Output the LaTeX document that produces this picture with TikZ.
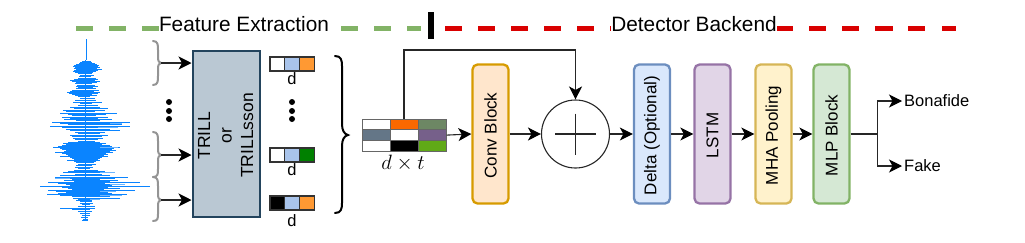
\documentclass[tikz,border=0pt]{standalone}
\usepackage{fontspec}
\usepackage{graphicx}
\setmainfont{Liberation Sans}
\usetikzlibrary{arrows.meta,calc}
\definecolor{wave}{HTML}{0A84FF}
\definecolor{wavelight}{HTML}{6DB6FF}
\definecolor{rulegreen}{RGB}{130,179,102}
\definecolor{rulered}{RGB}{217,0,0}
\newcommand{\blocktext}[1]{\rotatebox{90}{#1\hspace{3pt}}}
\tikzset{
  x=1pt,y=-1pt,
  flow/.style={draw=black!85,line width=1.1pt,-{Stealth[length=13pt,width=13pt,inset=3.5pt,color=black]}},
  plainline/.style={draw=black!85,line width=1.1pt},
  block/.style={draw,line width=2.3pt,rounded corners=5pt,minimum width=36pt,minimum height=139pt,inner sep=0pt,font=\fontsize{17}{19}\selectfont},
  cell/.style={draw=black!80,line width=1.1pt,minimum width=14.7pt,minimum height=14pt,inner sep=0pt},
  gridcell/.style={draw=black!60,line width=1pt,minimum width=27.7pt,minimum height=10.7pt,inner sep=0pt},
  sizelabel/.style={font=\fontsize{16.5}{18}\selectfont,inner sep=0pt},
  heading/.style={font=\fontsize{20.8}{22}\selectfont,fill=white,inner sep=0pt,text height=15pt,text depth=4pt},
  sectionrule/.style={line width=5pt},
  dotmark/.style={circle,fill=black,inner sep=0pt,minimum size=6pt},
  grouping/.style={draw=black!42,line width=2pt,line cap=round},
  outlabel/.style={anchor=west,inner sep=0pt,font=\fontsize{16.5}{18}\selectfont},
}
\begin{document}
\begin{tikzpicture}
\useasboundingbox (0,0) rectangle (1025,242);

% Section rules
\foreach \a/\b in {76/93,109/126,142/159,341/358,374/391,407/421}
  \draw[sectionrule,rulegreen] (\a,28) -- (\b,28);
\foreach \a/\b in {445/462,478/495,511/528,544/561,577/594,610/612,777/793,809/826,842/859,875/893,908/925,942/956}
  \draw[sectionrule,rulered] (\a,28) -- (\b,28);
\draw[line width=5.5pt] (431,12) -- (431,39);
\node[heading] (fe) at (244,26) {Feature Extraction};
\node[heading] (db) at (694,26) {Detector Backend};

% Speech waveform, drawn top to bottom as horizontal excursions
\draw[wave,line width=0.9pt] (86,39) -- (86,60) (85.5,60) -- (85.5,221);
\foreach \y/\l/\r in {
 61/82/91,62/80/92,63/79/95,64/76/97,65/74/99,66/73/98,67/75/100,68/74/97,69/76/102,70/74/98,71/73/96,72/75/93,73/78/92,
 75/80/94,76/79/91,78/78/96,79/74/98,80/70/95,81/72/100,82/76/97,83/75/92,85/77/95,86/76/98,87/78/93,88/76/96,
 90/72/99,91/70/94,92/67/100,93/69/98,94/72/92,95/75/97,96/78/90,98/80/95,100/75/96,102/73/102,103/80/92,
 105/78/98,107/70/100,108/74/108,110/63/105,111/66/95,113/60/117,114/68/106,115/72/96,117/62/108,118/70/98,119/64/112,
 120/76/100,122/52/130,123/60/120,124/68/122,126/50/130,127/62/118,129/66/110,130/70/120,132/75/105,133/78/100,
 135/70/108,136/72/102,138/73/103,139/75/98,141/78/95,142/68/100,143/63/106,144/66/102,145/62/110,146/58/112,147/53/120,
 148/60/114,149/62/112,150/66/116,151/64/110,152/55/113,153/62/106,154/66/108,155/68/104,156/60/108,157/70/102,158/72/100,
 159/74/98,160/67/100,161/74/96,162/76/94,164/78/96,165/76/92,167/75/93,168/78/90,170/74/98,171/68/105,172/63/115,
 174/75/102,175/60/110,177/55/128,178/68/115,179/72/100,180/64/118,181/74/110,182/48/140,183/58/105,184/66/125,
 185/70/112,186/40/150,187/62/108,188/68/120,189/72/104,190/48/135,191/56/116,192/66/108,193/58/112,194/47/127,195/60/122,
 196/72/110,198/73/120,199/78/95,200/76/92,201/80/92,203/80/93,204/82/90,206/78/95,208/60/95,209/72/90,211/78/92,
 213/80/90,215/82/90,217/81/88,219/83/88,220/82/88}
  \draw[wave,line width=1pt] (\l,\y) -- (\r,\y);
\foreach \y/\l/\r in {123/110/122,127/98/118,147/100/118,172/100/115,178/55/70,184/110/125,191/100/116,195/100/122,199/90/100}
  \draw[wavelight,line width=1pt] (\l,\y) -- (\r,\y);

% Segment braces over the waveform
\coordinate (tipa) at (161,63);
\coordinate (tipb) at (161,155);
\coordinate (tipc) at (161,200);
\draw[grouping] (153,41) .. controls (158,41) and (158,45) .. (158,50) -- (158,57) .. controls (158,61) and (159,63) .. (tipa)
  .. controls (159,63) and (158,65) .. (158,69) -- (158,76) .. controls (158,81) and (158,85) .. (153,85);
\draw[grouping] (153,132) .. controls (158,132) and (158,136) .. (158,141) -- (158,149) .. controls (158,153) and (159,155) .. (tipb)
  .. controls (159,155) and (158,157) .. (158,161) -- (158,169) .. controls (158,174) and (158,177) .. (153,177);
\draw[grouping] (153,177) .. controls (158,177) and (158,181) .. (158,186) -- (158,194) .. controls (158,198) and (159,200) .. (tipc)
  .. controls (159,200) and (158,202) .. (158,206) -- (158,214) .. controls (158,218) and (158,221) .. (153,221);

\node[dotmark] (la) at (169,102) {};
\node[dotmark] (lb) at (169,111) {};
\node[dotmark] (lc) at (169,119) {};

% Embedding network
\node[draw={rgb,255:red,35;green,68;blue,93},fill={rgb,255:red,186;green,200;blue,211},line width=2pt,minimum width=67pt,minimum height=166pt,inner sep=0pt,
  font=\fontsize{17.5}{20}\selectfont] (trill) at (226,134) {\hspace{3pt}\rotatebox{90}{\begin{tabular}{@{}c@{}}TRILL\\[1.5pt]or\\[1.5pt]TRILLsson\end{tabular}\hspace{3pt}}};
\foreach \t in {a,b,c}
  \draw[flow] (tip\t) -- (trill.west |- tip\t);

% Per-segment embeddings
\node[cell,fill=white] (e1a) at (277.3,64) {};
\node[cell,fill={rgb,255:red,169;green,196;blue,235}] (e1b) at (292,64) {};
\node[cell,fill={rgb,255:red,255;green,153;blue,51}] (e1c) at (306.7,64) {};
\node[sizelabel] (d1) at (292,79) {d};
\node[dotmark] (ra) at (292,102) {};
\node[dotmark] (rb) at (292,111) {};
\node[dotmark] (rc) at (292,119) {};
\node[cell,fill=white] (e2a) at (277.3,155) {};
\node[cell,fill={rgb,255:red,169;green,196;blue,235}] (e2b) at (292,155) {};
\node[cell,fill={rgb,255:red,0;green,128;blue,0}] (e2c) at (306.7,155) {};
\node[sizelabel] (d2) at (292,170) {d};
\node[cell,fill=black] (e3a) at (277.3,203) {};
\node[cell,fill={rgb,255:red,169;green,196;blue,235}] (e3b) at (292,203) {};
\node[cell,fill={rgb,255:red,255;green,153;blue,51}] (e3c) at (306.7,203) {};
\node[sizelabel] (d3) at (292,221) {d};

% Brace collecting the embeddings
\draw[line width=2pt,line cap=round] (335,56) .. controls (341,56) and (342,60) .. (342,66) -- (342,124)
  .. controls (342,130) and (344,134) .. (348,135) .. controls (344,136) and (342,140) .. (342,146) -- (342,203)
  .. controls (342,209) and (341,213) .. (335,213);

% Embedding matrix
\node[gridcell,fill=white] (m11) at (376.8,124.4) {};
\node[gridcell,fill={rgb,255:red,250;green,104;blue,0}] (m12) at (404.5,124.4) {};
\node[gridcell,fill={rgb,255:red,109;green,135;blue,100}] (m13) at (432.2,124.4) {};
\node[gridcell,fill={rgb,255:red,100;green,118;blue,135}] (m21) at (376.8,135.1) {};
\node[gridcell,fill=white] (m22) at (404.5,135.1) {};
\node[gridcell,fill={rgb,255:red,118;green,96;blue,138}] (m23) at (432.2,135.1) {};
\node[gridcell,fill=white] (m31) at (376.8,145.8) {};
\node[gridcell,fill=black] (m32) at (404.5,145.8) {};
\node[gridcell,fill={rgb,255:red,96;green,169;blue,23}] (m33) at (432.2,145.8) {};
\node[sizelabel,font=\fontsize{20}{22}\selectfont] (dt) at (403,163) {$d\times t$};

% Backend blocks
\node[block,draw={rgb,255:red,215;green,155;blue,0},fill={rgb,255:red,255;green,230;blue,204}] (conv) at (490.5,134) {\blocktext{Conv Block}};
\node[draw=black!85,line width=1.1pt,circle,minimum size=68pt,inner sep=0pt] (sum) at (575.5,134) {};
\node[block,draw={rgb,255:red,108;green,142;blue,191},fill={rgb,255:red,218;green,232;blue,252}] (delta) at (652,134) {\blocktext{Delta (Optional)}};
\node[block,draw={rgb,255:red,150;green,115;blue,166},fill={rgb,255:red,225;green,213;blue,231}] (lstm) at (712.5,134) {\blocktext{LSTM}};
\node[block,draw={rgb,255:red,214;green,182;blue,86},fill={rgb,255:red,255;green,242;blue,204}] (mha) at (773.5,134) {\blocktext{MHA Pooling}};
\node[block,draw={rgb,255:red,130;green,179;blue,102},fill={rgb,255:red,213;green,232;blue,212}] (mlp) at (831.5,134) {\blocktext{MLP Block}};

% Summing junction cross
\draw[plainline] ($(sum.center)+(-20.5,0)$) -- ($(sum.center)+(20.5,0)$);
\draw[plainline] ($(sum.center)+(0,-20.5)$) -- ($(sum.center)+(0,20.5)$);

% Data flow
\draw[flow] (m23.east) -- (conv.west);
\draw[flow] (conv.east) -- (sum.west);
\draw[flow] (sum.east) -- (delta.west);
\draw[flow] (delta.east) -- (lstm.west);
\draw[flow] (lstm.east) -- (mha.west);
\draw[flow] (mha.east) -- (mlp.west);
\coordinate (skipup) at (404,50);
\draw[flow] (m12.north -| skipup) -- (skipup) -| (sum.north);

% Class outputs
\node[outlabel] (bona) at (904,101) {Bonafide};
\node[outlabel] (fake) at (904,166) {Fake};
\coordinate (split) at (877.5,134);
\draw[plainline] (mlp.east) -- (split);
\draw[flow] (split) |- ($(bona.west)+(-2,0)$);
\draw[flow] (split) |- ($(fake.west)+(-2,0)$);
\end{tikzpicture}
\end{document}
